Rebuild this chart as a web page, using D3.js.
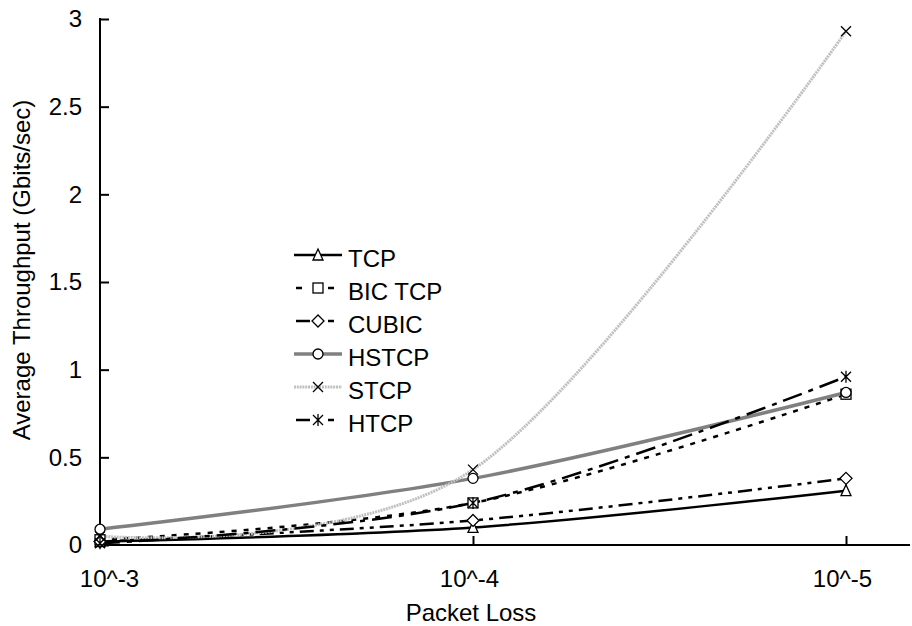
<!DOCTYPE html>
<html>
<head>
<meta charset="utf-8">
<script src="https://cdn.jsdelivr.net/npm/d3@7"></script>
<style>
  html, body { margin: 0; padding: 0; background: #fff; }
  svg { display: block; font-family: "Liberation Sans", Arial, sans-serif; }
</style>
</head>
<body>
<svg id="chart" width="912" height="626"></svg>
<script>
// Packet loss levels on the x axis
const lossLabels = ["10^-3", "10^-4", "10^-5"];
const yTicks = [0, 0.5, 1, 1.5, 2, 2.5, 3];

// Average throughput (Gbits/sec) per protocol, one value per loss level
const tcp   = [0.02, 0.10, 0.31];
const bic   = [0.03, 0.24, 0.86];
const cubic = [0.02, 0.14, 0.38];
const hstcp = [0.09, 0.38, 0.87];
const stcp  = [0.05, 0.43, 2.93];
const htcp  = [0.01, 0.24, 0.96];

const series = [
  { name: "TCP",     values: tcp,   color: "#000",    width: 2.5, dash: null,           marker: "triangle" },
  { name: "BIC TCP", values: bic,   color: "#000",    width: 2.5, dash: "5,7",          marker: "square" },
  { name: "CUBIC",   values: cubic, color: "#000",    width: 2.5, dash: "14,6,4,6,4,6", marker: "diamond" },
  { name: "HSTCP",   values: hstcp, color: "#808080", width: 3.5, dash: null,           marker: "circle" },
  { name: "STCP",    values: stcp,  color: "#c0c0c0", width: 3,   dash: "2,0.8",        marker: "x" },
  { name: "HTCP",    values: htcp,  color: "#000",    width: 2.5, dash: "20,7,5,7",     marker: "asterisk" }
];

const FONT = 24;
const svg = d3.select("#chart");
const x = d3.scaleLinear().domain([0, 2]).range([100, 846]);
const y = d3.scaleLinear().domain([0, 3]).range([545, 19]);

// Y axis
const yAxis = d3.axisLeft(y).tickValues(yTicks).tickSize(-9).tickPadding(18)
  .tickFormat(d => String(d));
const gy = svg.append("g").attr("transform", "translate(100,0)").call(yAxis);
gy.select(".domain").remove();
gy.selectAll("text").attr("font-size", FONT).attr("fill", "#000").attr("font-family", null);
gy.selectAll("line").attr("stroke", "#000").attr("stroke-width", 2);
svg.append("line").attr("x1", 100).attr("x2", 100).attr("y1", y(3) - 1).attr("y2", y(0))
  .attr("stroke", "#000").attr("stroke-width", 2);

// X axis (category positions along a linear scale)
const xAxis = d3.axisBottom(x).tickValues([0, 1, 2]).tickSize(-9).tickPadding(25)
  .tickFormat(i => lossLabels[i]);
const gx = svg.append("g").attr("transform", `translate(0,${y(0)})`).call(xAxis);
gx.select(".domain").remove();
gx.selectAll("text").attr("font-size", FONT).attr("fill", "#000").attr("font-family", null)
  .attr("dx", i => i === 0 ? 9 : -4);
gx.selectAll("line").attr("stroke", "#000").attr("stroke-width", 2);
svg.append("line").attr("x1", 99).attr("x2", 910).attr("y1", y(0)).attr("y2", y(0))
  .attr("stroke", "#000").attr("stroke-width", 2);

// Axis titles
svg.append("text").attr("x", 471).attr("y", 621).attr("text-anchor", "middle")
  .attr("font-size", FONT).text("Packet Loss");
svg.append("text").attr("transform", "translate(30,270) rotate(-90)")
  .attr("text-anchor", "middle").attr("font-size", FONT).text("Average Throughput (Gbits/sec)");

// Smoothed lines
const line = d3.line().x((d, i) => x(i)).y(d => y(d)).curve(d3.curveCardinal.tension(0));

function drawMarker(g, type, cx, cy) {
  const s = 5;
  let el;
  if (type === "triangle") {
    el = g.append("path").attr("d", `M${cx},${cy - s - 1}L${cx + s},${cy + s}L${cx - s},${cy + s}Z`).attr("fill", "#fff");
  } else if (type === "square") {
    el = g.append("rect").attr("x", cx - s).attr("y", cy - s).attr("width", 2 * s).attr("height", 2 * s).attr("fill", "#fff");
  } else if (type === "diamond") {
    el = g.append("path").attr("d", `M${cx},${cy - s - 1}L${cx + s + 1},${cy}L${cx},${cy + s + 1}L${cx - s - 1},${cy}Z`).attr("fill", "#fff");
  } else if (type === "circle") {
    el = g.append("circle").attr("cx", cx).attr("cy", cy).attr("r", s).attr("fill", "#fff");
  } else if (type === "x") {
    el = g.append("path").attr("d", `M${cx - s},${cy - s}L${cx + s},${cy + s}M${cx + s},${cy - s}L${cx - s},${cy + s}`)
      .attr("fill", "none");
  } else if (type === "asterisk") {
    el = g.append("path").attr("d",
      `M${cx - s},${cy - s}L${cx + s},${cy + s}M${cx + s},${cy - s}L${cx - s},${cy + s}M${cx},${cy - s - 1}L${cx},${cy + s + 1}`)
      .attr("fill", "none");
  }
  el.attr("stroke", "#000").attr("stroke-width", 1.3);
}

const plot = svg.append("g");
series.forEach(s => {
  plot.append("path").datum(s.values).attr("d", line)
    .attr("fill", "none").attr("stroke", s.color).attr("stroke-width", s.width)
    .attr("stroke-dasharray", s.dash);
});
series.forEach(s => {
  const g = plot.append("g");
  s.values.forEach((v, i) => drawMarker(g, s.marker, x(i), y(v)));
});

// Legend
const legend = svg.append("g");
series.forEach((s, i) => {
  const ly = 255 + i * 33;
  if (s.dash && s.name !== "STCP") {
    // dashed styles: a leading dash and a trailing dash around the marker
    const lead = s.name === "BIC TCP" ? 6 : 14;
    legend.append("line").attr("x1", 296).attr("x2", 296 + lead).attr("y1", ly).attr("y2", ly)
      .attr("stroke", s.color).attr("stroke-width", s.width);
    legend.append("line").attr("x1", 328).attr("x2", 334).attr("y1", ly).attr("y2", ly)
      .attr("stroke", s.color).attr("stroke-width", s.width);
  } else {
    legend.append("line").attr("x1", 294).attr("x2", 342).attr("y1", ly).attr("y2", ly)
      .attr("stroke", s.color).attr("stroke-width", s.width).attr("stroke-dasharray", s.dash);
  }
  drawMarker(legend.append("g"), s.marker, 318, ly);
  legend.append("text").attr("x", 348).attr("y", ly + 12).attr("font-size", FONT).text(s.name);
});
</script>
</body>
</html>
